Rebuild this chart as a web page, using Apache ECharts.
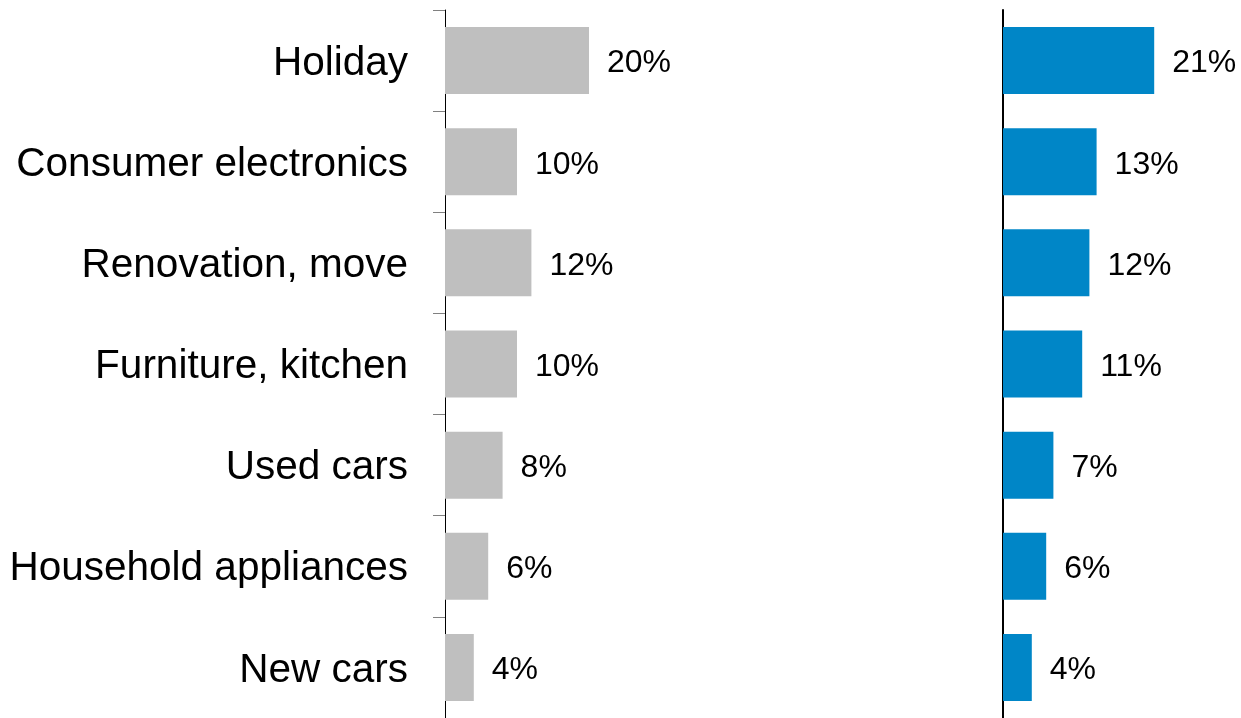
<!DOCTYPE html>
<html>
<head>
<meta charset="utf-8">
<script src="https://cdn.jsdelivr.net/npm/echarts@6/dist/echarts.min.js"></script>
<style>
  html, body { margin: 0; padding: 0; background: #ffffff; }
  #chart { width: 1241px; height: 718px; }
</style>
</head>
<body>
<div id="chart"></div>
<script>
// Spending categories, top to bottom
const categories = ['Holiday', 'Consumer electronics', 'Renovation, move', 'Furniture, kitchen', 'Used cars', 'Household appliances', 'New cars'];
// Shares in percent for the two groups
const leftShares = [20, 10, 12, 10, 8, 6, 4];
const rightShares = [21, 13, 12, 11, 7, 6, 4];

const FONT = '"Liberation Sans", Arial, Helvetica, sans-serif';
const BAND_H = 101.5;

const chart = echarts.init(document.getElementById('chart'), null, { renderer: 'canvas' });

const valueLabel = {
  show: true,
  position: 'right',
  distance: 18,
  offset: [0, 3],
  formatter: '{c}%',
  color: '#000000',
  fontFamily: FONT,
  fontSize: 32
};

chart.setOption({
  animation: false,
  backgroundColor: '#ffffff',
  grid: [
    { left: 445, top: 10, width: 216, height: BAND_H * categories.length },
    { left: 1003, top: 10, width: 216, height: BAND_H * categories.length }
  ],
  xAxis: [
    { gridIndex: 0, type: 'value', min: 0, max: 30, show: false },
    { gridIndex: 1, type: 'value', min: 0, max: 30, show: false }
  ],
  yAxis: [
    {
      gridIndex: 0,
      type: 'category',
      data: categories,
      inverse: true,
      axisLine: { show: true, lineStyle: { color: '#000000', width: 1 } },
      axisTick: { show: true, length: 12, lineStyle: { color: '#808080', width: 1 } },
      axisLabel: {
        margin: 37,
        formatter: '{c|{value}}',
        rich: {
          c: { color: '#000000', fontFamily: FONT, fontSize: 40.5, padding: [6, 0, 0, 0] }
        }
      },
      splitLine: { show: false }
    },
    {
      gridIndex: 1,
      type: 'category',
      data: categories,
      inverse: true,
      axisLine: { show: true, lineStyle: { color: '#000000', width: 2 } },
      axisTick: { show: false },
      axisLabel: { show: false },
      splitLine: { show: false }
    }
  ],
  series: [
    {
      type: 'bar',
      xAxisIndex: 0,
      yAxisIndex: 0,
      data: leftShares,
      barWidth: 67,
      itemStyle: { color: '#BFBFBF' },
      label: valueLabel
    },
    {
      type: 'bar',
      xAxisIndex: 1,
      yAxisIndex: 1,
      data: rightShares,
      barWidth: 67,
      itemStyle: { color: '#0086C7' },
      label: valueLabel
    }
  ]
});
</script>
</body>
</html>
